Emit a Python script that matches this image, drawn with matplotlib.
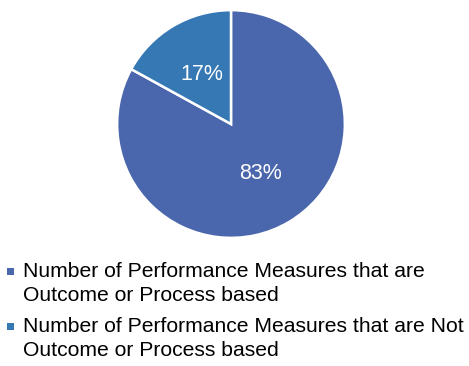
import matplotlib.pyplot as plt
from matplotlib.patches import Rectangle

plt.rcParams['font.family'] = ['Liberation Sans', 'DejaVu Sans']

labels = [['Number of Performance Measures that are', 'Outcome or Process based'],
          ['Number of Performance Measures that are Not', 'Outcome or Process based']]
shares = [83, 17]
colors = ['#4a66ac', '#3578b4']

W, H = 469, 366
fig = plt.figure(figsize=(W / 100, H / 100), dpi=100)

# pie centred at (231, 124) px with a radius of 115 px
ax = fig.add_axes([116 / W, (H - 124 - 115) / H, 230 / W, 230 / H])
wedges, texts, autotexts = ax.pie(
    shares, colors=colors, startangle=90, counterclock=False,
    autopct='%.0f%%', pctdistance=0.51,
    wedgeprops=dict(edgecolor='white', linewidth=1.8),
    textprops=dict(color='white', fontsize=15.5))
ax.set_xlim(-1.01, 1.01)
ax.set_ylim(-1.01, 1.01)
ax.set_aspect('equal')
ax.axis('off')

# legend below the pie, one square marker per entry, two text lines each
top = [277, 332]
for (line1, line2), c, y in zip(labels, colors, top):
    fig.patches.append(Rectangle((7 / W, 1 - (y - 2) / H), 7 / W, 7 / H,
                                 transform=fig.transFigure, facecolor=c,
                                 edgecolor='none'))
    fig.text(23 / W, 1 - y / H, line1, fontsize=15.25, va='baseline', color='#000000')
    fig.text(23 / W, 1 - (y + 24) / H, line2, fontsize=15.25, va='baseline', color='#000000')

fig.savefig('out.png', dpi=100)
